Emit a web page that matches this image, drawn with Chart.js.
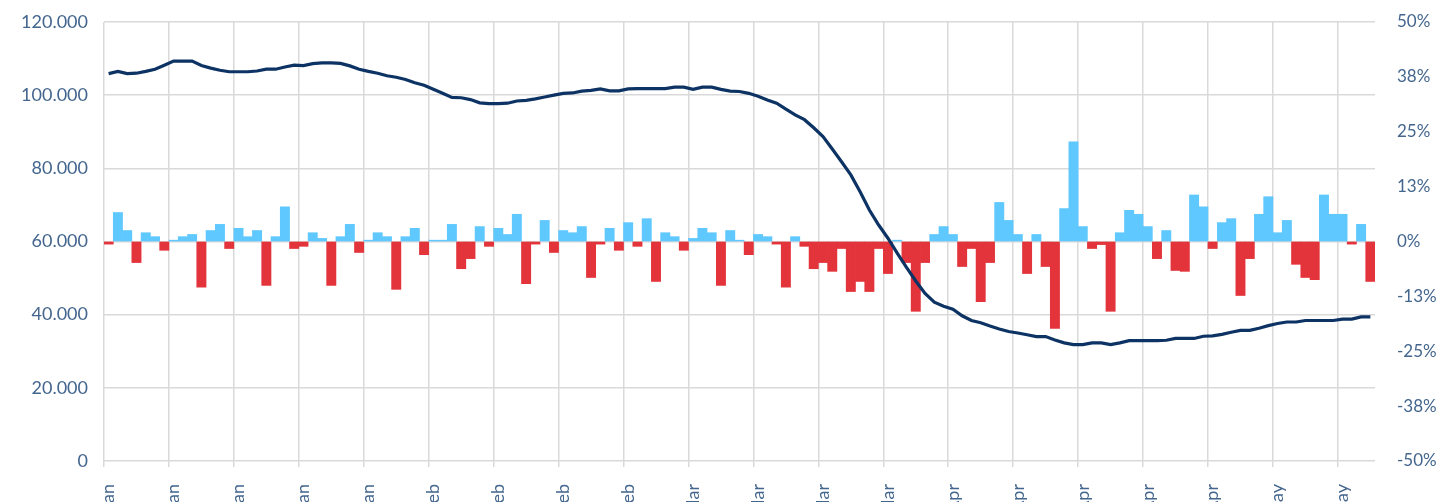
<!DOCTYPE html>
<html>
<head>
<meta charset="utf-8">
<script src="https://cdn.jsdelivr.net/npm/chart.js@4.4.0/dist/chart.umd.min.js"></script>
<style>
  html, body { margin: 0; padding: 0; background: #fff; }
  #wrap { width: 1437px; height: 502px; }
</style>
</head>
<body>
<div id="wrap"><canvas id="chart" width="1437" height="502"></canvas></div>
<script>
// daily categories, 1 Jan - 16 May
const categories = [
  '01-Jan','02-Jan','03-Jan','04-Jan','05-Jan','06-Jan','07-Jan','08-Jan','09-Jan','10-Jan','11-Jan','12-Jan','13-Jan','14-Jan','15-Jan','16-Jan',
  '17-Jan','18-Jan','19-Jan','20-Jan','21-Jan','22-Jan','23-Jan','24-Jan','25-Jan','26-Jan','27-Jan','28-Jan','29-Jan','30-Jan','31-Jan',
  '01-Feb','02-Feb','03-Feb','04-Feb','05-Feb','06-Feb','07-Feb','08-Feb','09-Feb','10-Feb','11-Feb','12-Feb','13-Feb','14-Feb','15-Feb',
  '16-Feb','17-Feb','18-Feb','19-Feb','20-Feb','21-Feb','22-Feb','23-Feb','24-Feb','25-Feb','26-Feb','27-Feb','28-Feb','29-Feb',
  '01-Mar','02-Mar','03-Mar','04-Mar','05-Mar','06-Mar','07-Mar','08-Mar','09-Mar','10-Mar','11-Mar','12-Mar','13-Mar','14-Mar','15-Mar','16-Mar',
  '17-Mar','18-Mar','19-Mar','20-Mar','21-Mar','22-Mar','23-Mar','24-Mar','25-Mar','26-Mar','27-Mar','28-Mar','29-Mar','30-Mar','31-Mar',
  '01-Apr','02-Apr','03-Apr','04-Apr','05-Apr','06-Apr','07-Apr','08-Apr','09-Apr','10-Apr','11-Apr','12-Apr','13-Apr','14-Apr','15-Apr',
  '16-Apr','17-Apr','18-Apr','19-Apr','20-Apr','21-Apr','22-Apr','23-Apr','24-Apr','25-Apr','26-Apr','27-Apr','28-Apr','29-Apr','30-Apr',
  '01-May','02-May','03-May','04-May','05-May','06-May','07-May','08-May','09-May','10-May','11-May','12-May','13-May','14-May','15-May','16-May'
];

// level (left axis)
const levelValues = [
  105900, 106500, 105900, 106000, 106500, 107100, 108200, 109300, 109300, 109300,
  108100, 107400, 106800, 106400, 106400, 106400, 106600, 107100, 107100, 107700,
  108200, 108100, 108600, 108800, 108800, 108700, 108000, 107100, 106500, 106000,
  105300, 104900, 104300, 103400, 102700, 101600, 100500, 99400, 99300, 98800,
  97900, 97700, 97700, 97800, 98400, 98600, 99000, 99500, 100000, 100500,
  100600, 101100, 101300, 101700, 101200, 101200, 101700, 101800, 101800, 101800,
  101800, 102200, 102200, 101600, 102200, 102200, 101600, 101100, 101000, 100500,
  99700, 98700, 97800, 96200, 94600, 93300, 91100, 88700, 85300, 81800,
  78200, 73600, 68600, 64500, 60900, 56800, 52900, 49200, 45800, 43400,
  42300, 41500, 39700, 38400, 37800, 36900, 36100, 35400, 35000, 34500,
  34000, 34000, 33100, 32300, 31800, 31800, 32300, 32300, 31800, 32300,
  32900, 32900, 32900, 32900, 33000, 33500, 33500, 33500, 34100, 34200,
  34600, 35200, 35700, 35700, 36300, 37000, 37600, 38000, 38000, 38400,
  38400, 38400, 38400, 38800, 38800, 39400, 39400
];

// daily change in % (right axis)
const dailyChange = [
  -0.6, 6.6, 2.5, -4.8, 2.0, 1.1, -2.0, 0.3, 1.1, 1.6,
  -10.4, 2.5, 3.9, -1.6, 3.0, 1.1, 2.5, -10.0, 1.1, 7.9,
  -1.6, -1.1, 2.0, 0.7, -10.0, 1.1, 3.9, -2.5, 0.3, 2.0,
  1.1, -10.9, 1.1, 3.0, -3.0, 0.3, 0.3, 3.9, -6.2, -3.9,
  3.4, -1.1, 3.0, 1.6, 6.2, -9.6, -0.6, 4.8, -2.5, 2.5,
  2.0, 3.4, -8.2, -0.6, 3.0, -2.0, 4.3, -1.1, 5.2, -9.1,
  2.0, 1.1, -2.0, 0.7, 3.0, 2.0, -10.0, 2.5, 0.3, -3.0,
  1.6, 1.1, -0.6, -10.4, 1.1, -1.1, -6.2, -4.8, -6.8, -1.6,
  -11.4, -9.1, -11.4, -1.6, -7.3, 0.3, -4.8, -15.9, -4.8, 1.6,
  3.4, 1.6, -5.7, -1.6, -13.7, -4.8, 8.9, 4.8, 1.6, -7.3,
  1.6, -5.7, -19.8, 7.5, 22.7, 3.4, -1.6, -0.7, -15.9, 2.0,
  7.1, 6.2, 3.4, -3.9, 2.5, -6.6, -6.8, 10.6, 7.9, -1.6,
  4.3, 5.2, -12.3, -3.9, 6.2, 10.2, 2.0, 4.8, -5.2, -8.2,
  -8.7, 10.6, 6.2, 6.2, -0.6, 3.9, -9.1
];

const textColor = '#44668E';
const gridColor = '#D9D9D9';
const font = { family: 'Lato', size: 18 };
const rightFont = { family: 'Lato', size: 17 };

const ctx = document.getElementById('chart').getContext('2d');

new Chart(ctx, {
  type: 'bar',
  data: {
    labels: categories,
    datasets: [
      {
        type: 'line',
        data: levelValues,
        yAxisID: 'y',
        borderColor: '#0D3364',
        borderWidth: 3.2,
        pointRadius: 0,
        tension: 0,
        order: 0,
      },
      {
        data: dailyChange.map(v => (v > 0 ? v : null)),
        yAxisID: 'y1',
        backgroundColor: '#5FC8FF',
        barPercentage: 1,
        categoryPercentage: 1,
        grouped: false,
        order: 1,
      },
      {
        data: dailyChange.map(v => (v < 0 ? v : null)),
        yAxisID: 'y1',
        backgroundColor: '#E3343B',
        barPercentage: 1,
        categoryPercentage: 1,
        grouped: false,
        order: 2,
      },
    ],
  },
  options: {
    responsive: false,
    animation: false,
    devicePixelRatio: 1,
    layout: { padding: { top: 22, left: 0, right: 0, bottom: 0 } },
    plugins: { legend: { display: false }, tooltip: { enabled: false } },
    scales: {
      x: {
        offset: true,
        afterFit: (scale) => { scale.height = 41; },
        border: { display: false },
        grid: {
          offset: true,
          lineWidth: 1.5,
          tickLength: 6,
          color: (c) => (c.index % 7 === 0 ? gridColor : 'rgba(0,0,0,0)'),
        },
        ticks: {
          autoSkip: false,
          minRotation: 90,
          maxRotation: 90,
          padding: 17,
          color: textColor,
          font: font,
          callback: function (value, index) {
            return index % 7 === 0 ? this.getLabelForValue(value) : '';
          },
        },
      },
      y: {
        position: 'left',
        min: 0,
        max: 120000,
        afterFit: (scale) => { scale.width = 104; },
        border: { display: false },
        // label gap made with an invisible tick mark, so no extra top padding is added
        grid: { color: gridColor, lineWidth: 1.5, drawTicks: true, tickLength: 16, tickColor: 'rgba(0,0,0,0)' },
        ticks: {
          stepSize: 20000,
          padding: 0,
          color: textColor,
          font: font,
          callback: (v) => v.toLocaleString('de-DE'),
        },
      },
      y1: {
        position: 'right',
        min: -50,
        max: 50,
        afterFit: (scale) => { scale.width = 62; },
        border: { display: false },
        grid: { drawOnChartArea: false, drawTicks: true, tickLength: 22, tickColor: 'rgba(0,0,0,0)' },
        ticks: {
          stepSize: 12.5,
          padding: 0,
          color: textColor,
          font: rightFont,
          callback: (v) => (Math.sign(v) * Math.round(Math.abs(v))) + '%',
        },
      },
    },
  },
});
</script>
</body>
</html>
